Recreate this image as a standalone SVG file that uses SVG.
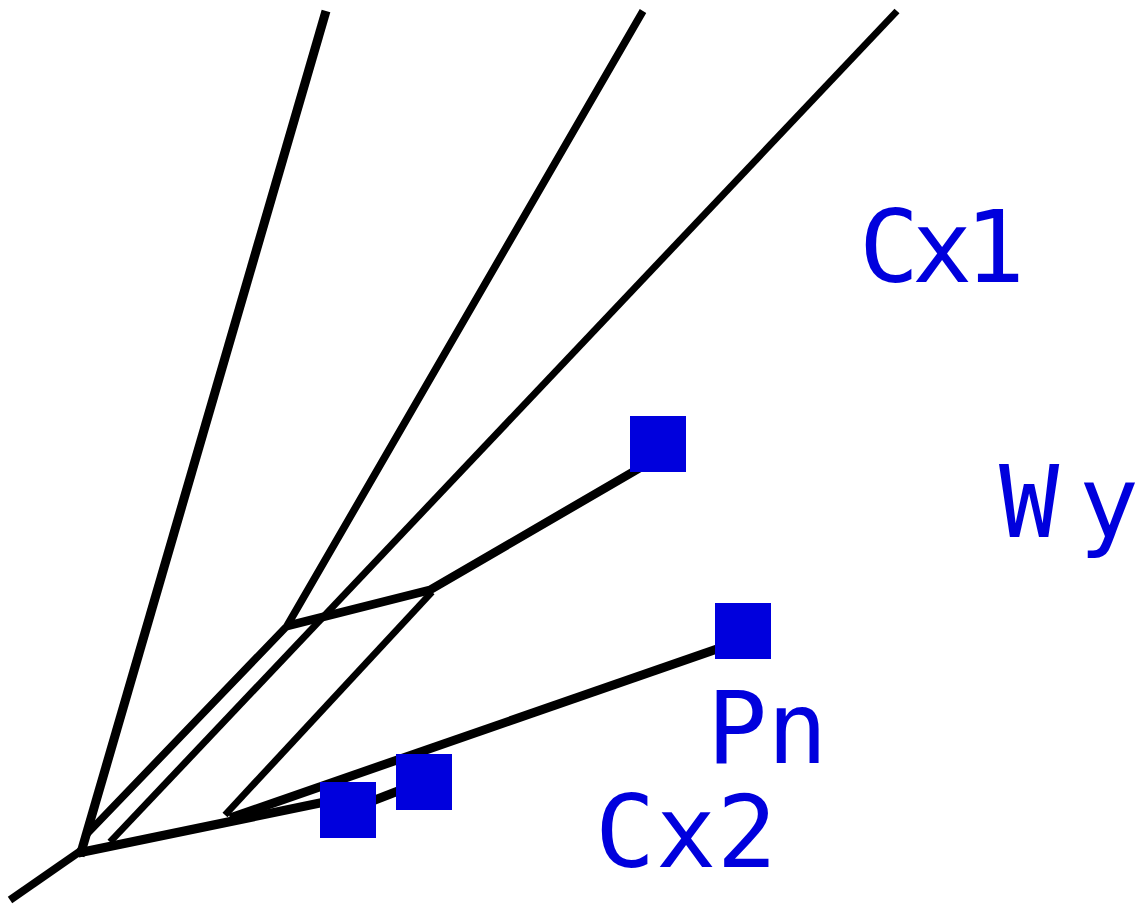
<svg xmlns="http://www.w3.org/2000/svg" width="1139" height="909" viewBox="0 0 1139 909">
<style>
.e{stroke:#000;fill:none;stroke-linecap:butt;stroke-linejoin:miter}
.sq{fill:#0000dd}
.lb{fill:#0000dd;font-family:"DejaVu Sans Mono","Liberation Mono",monospace;font-size:100px}
</style>
<rect width="1139" height="909" fill="#fff"/>
<g id="connectors">
<line class="e" x1="10" y1="900" x2="82" y2="850" stroke-width="7.7"/>
<line class="e" x1="80" y1="856" x2="326" y2="11" stroke-width="9"/>
<polyline class="e" points="85,836 287,626 643,11" stroke-width="7.5"/>
<line class="e" x1="110" y1="842" x2="897" y2="11" stroke-width="6.9"/>
<line class="e" x1="78" y1="853" x2="349" y2="797" stroke-width="9.2"/>
<line class="e" x1="349" y1="810" x2="424" y2="781" stroke-width="9"/>
<line class="e" x1="230" y1="818" x2="743" y2="640" stroke-width="8.9"/>
<line class="e" x1="225" y1="815" x2="432" y2="592" stroke-width="6.8"/>
<polyline class="e" points="287,626 430,590 650,462" stroke-width="8.6"/>
</g>
<g id="node-sq1"><rect class="sq" x="320" y="782" width="56" height="56"/></g>
<g id="node-sq2"><rect class="sq" x="396" y="754" width="56" height="56"/></g>
<g id="node-sq3"><rect class="sq" x="715" y="603" width="56" height="56"/></g>
<g id="node-sq4"><rect class="sq" x="630" y="416" width="56" height="56"/></g>
<g id="label-cx1"><text class="lb" x="859" y="282" textLength="166" lengthAdjust="spacing">Cx1</text></g>
<g id="label-wy"><text class="lb" x="999" y="537" textLength="140" lengthAdjust="spacing">Wy</text></g>
<g id="label-pn"><text class="lb" x="707" y="763">Pn</text></g>
<g id="label-cx2"><text class="lb" x="595" y="867" textLength="182" lengthAdjust="spacing">Cx2</text></g>
</svg>
